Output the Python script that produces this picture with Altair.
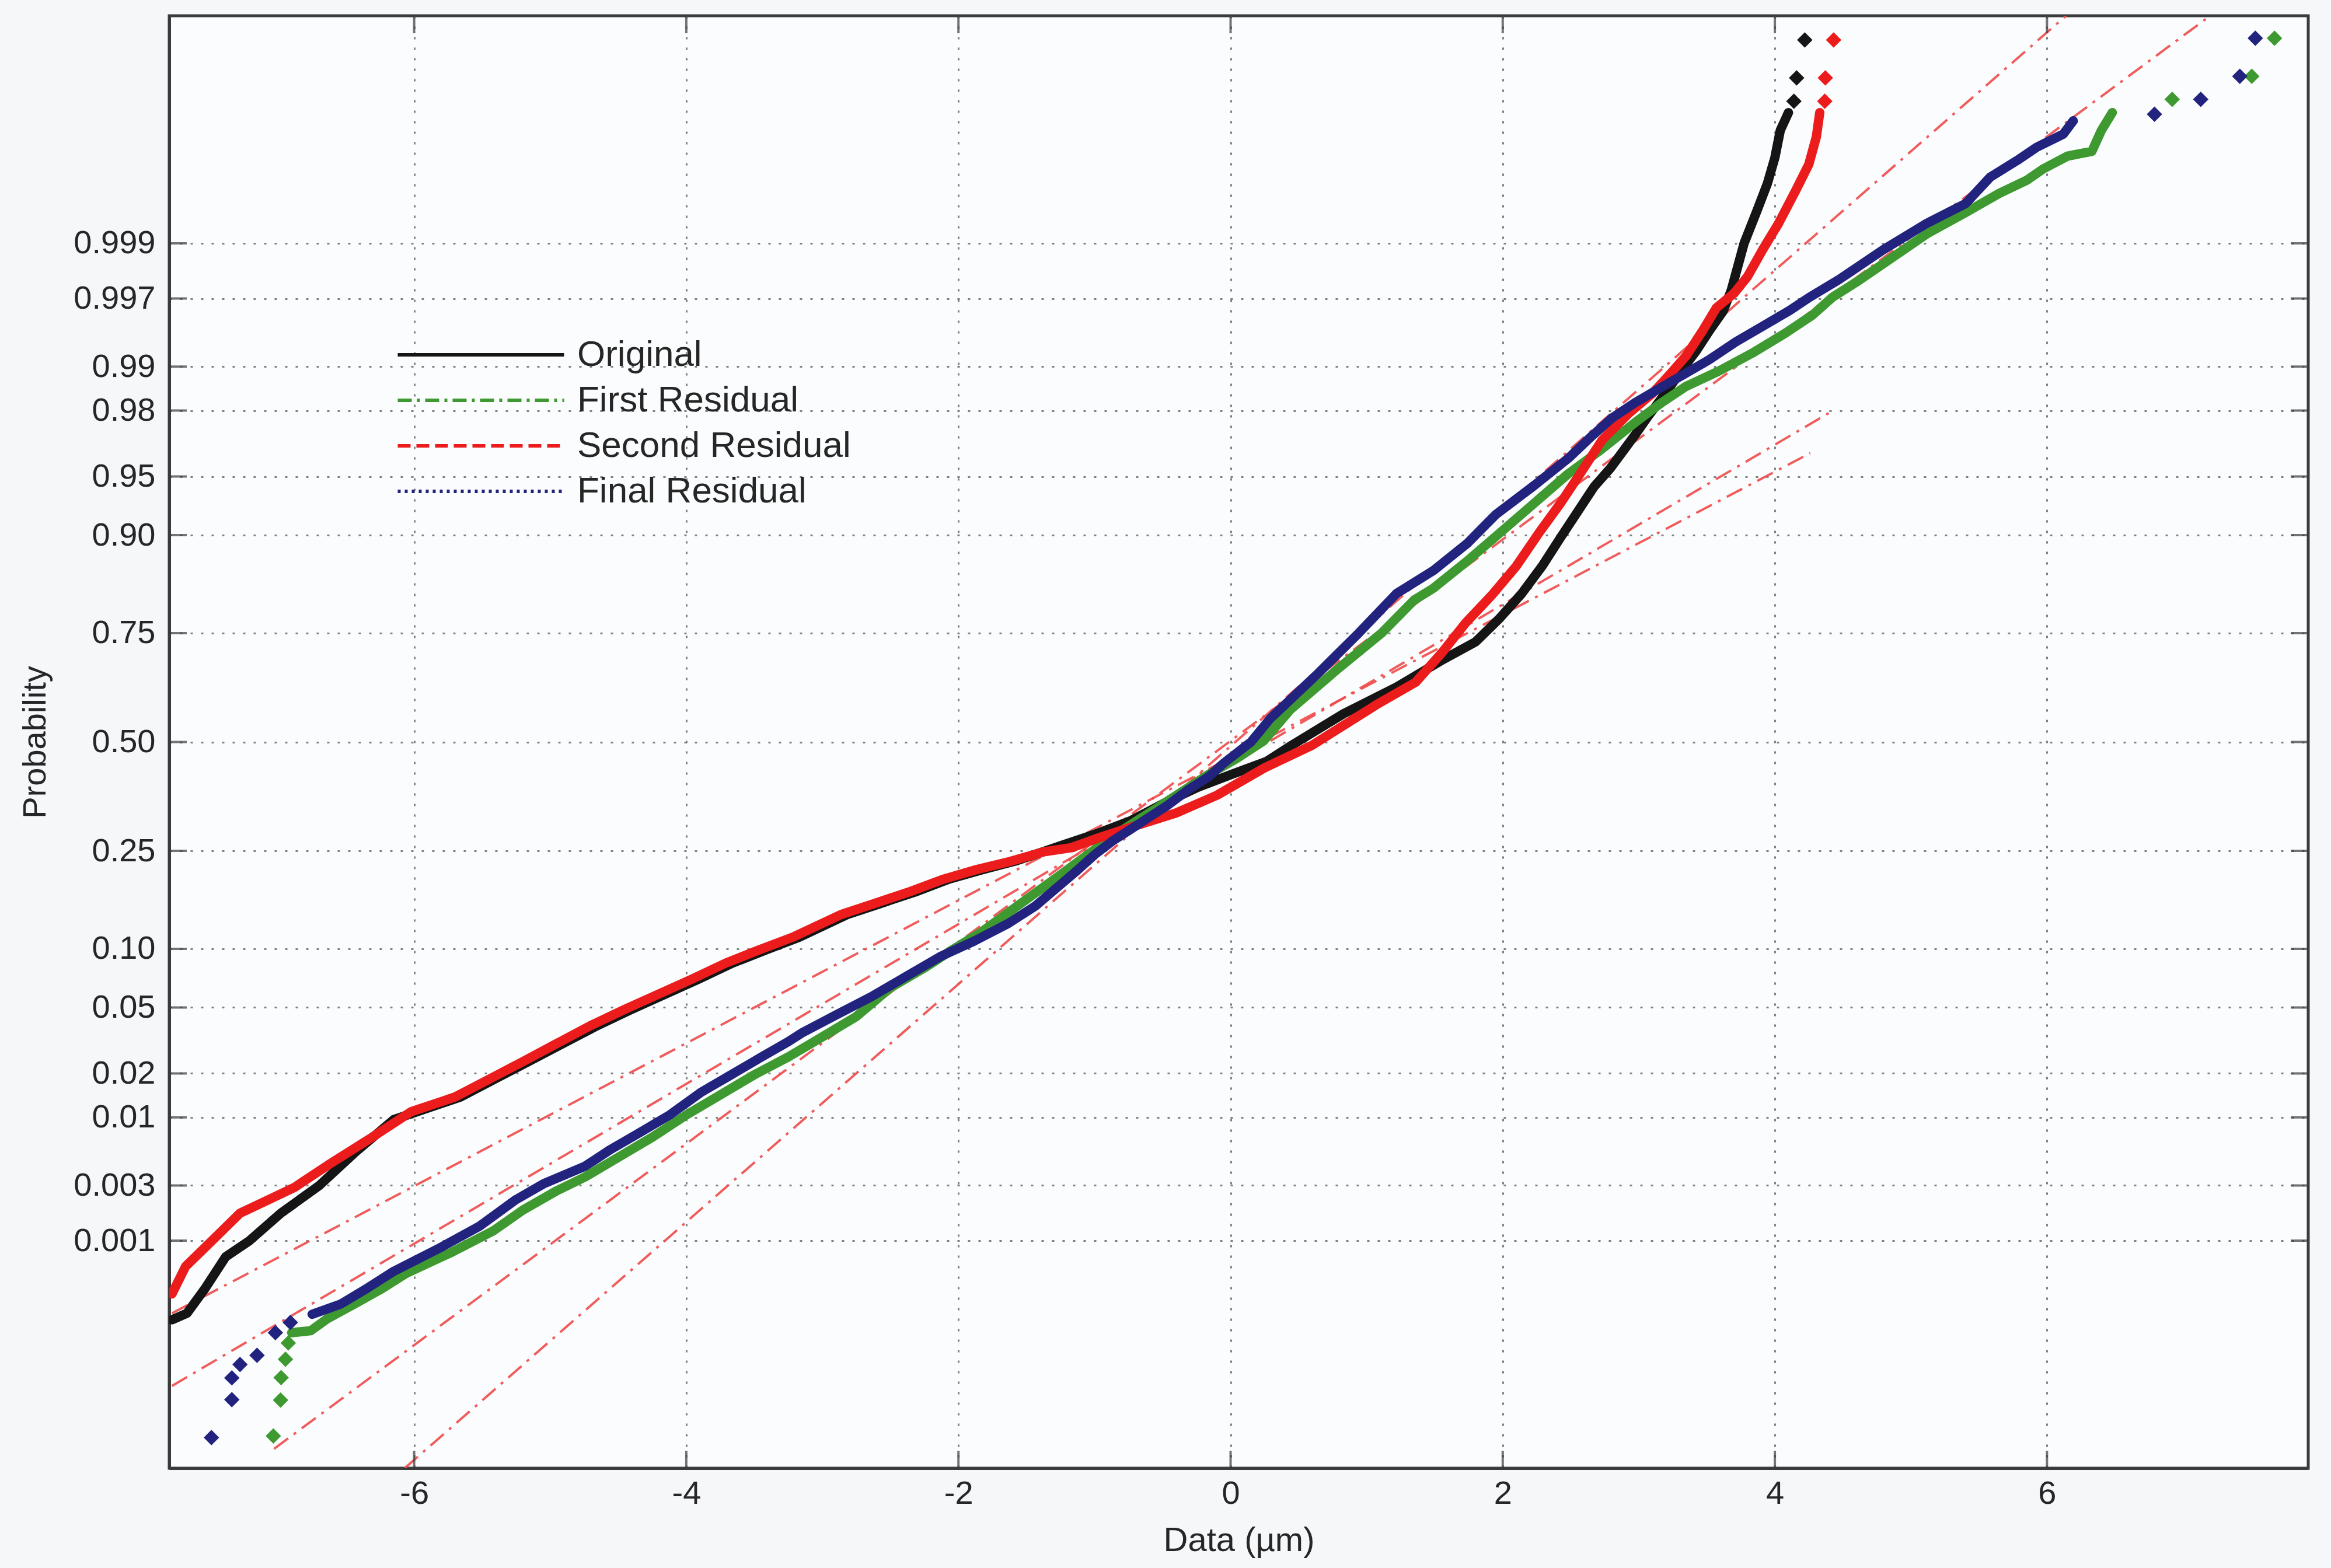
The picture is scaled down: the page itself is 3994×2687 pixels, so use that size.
import altair as alt
import pandas as pd
from statistics import NormalDist

# ---- series and styling -------------------------------------------------
SERIES = ["Original", "First Residual", "Second Residual", "Final Residual"]
COLORS = ["#151515", "#3e9a30", "#ec1c1c", "#22227f"]
LEGEND_DASH = [[1, 0], [24, 9, 5, 9], [22, 10], [5, 7]]

# probability ticks of the normal-probability axis
PROB_TICKS = [0.001, 0.003, 0.01, 0.02, 0.05, 0.10, 0.25, 0.50,
              0.75, 0.90, 0.95, 0.98, 0.99, 0.997, 0.999]
PROB_LABELS = ["0.001", "0.003", "0.01", "0.02", "0.05", "0.10", "0.25", "0.50",
               "0.75", "0.90", "0.95", "0.98", "0.99", "0.997", "0.999"]
X_TICKS = [-6, -4, -2, 0, 2, 4, 6]

X_DOMAIN = [-7.8, 7.92]
Q_DOMAIN = [-4.5, 4.5]

# ---- ordered sample quantiles (x = data in um, q = normal quantile) ------
orig_x = [-7.78, -7.67, -7.54, -7.385, -7.21, -6.98, -6.70, -6.43, -6.15, -5.66,
          -5.41, -5.16, -4.91, -4.66, -4.41, -4.16, -3.91, -3.66, -3.42, -3.17,
          -2.82, -2.57, -2.32, -2.07, -1.82, -1.57, -1.24, -0.99, -0.74, -0.49,
          -0.24, 0.01, 0.265, 0.45, 0.83, 1.22, 1.56, 1.80, 1.97, 2.14,
          2.29, 2.42, 2.545, 2.67, 2.795, 2.97, 3.07, 3.195, 3.32, 3.42,
          3.52, 3.62, 3.68, 3.774, 3.87, 3.945, 4.00, 4.04, 4.10]
orig_q = [-3.58, -3.54, -3.39, -3.19, -3.09, -2.92, -2.75, -2.54, -2.34, -2.20,
          -2.09, -1.98, -1.87, -1.76, -1.66, -1.565, -1.47, -1.37, -1.29, -1.21,
          -1.07, -1.00, -0.93, -0.85, -0.79, -0.735, -0.64, -0.57, -0.49, -0.38,
          -0.28, -0.20, -0.12, -0.02, 0.175, 0.34, 0.51, 0.62, 0.76, 0.92,
          1.09, 1.26, 1.42, 1.58, 1.70, 1.90, 2.02, 2.16, 2.31, 2.42,
          2.55, 2.67, 2.80, 3.09, 3.295, 3.46, 3.62, 3.79, 3.90]
orig_out_x = [4.14, 4.16, 4.22]
orig_out_q = [3.97, 4.115, 4.35]

first_x = [-6.90, -6.76, -6.635, -6.44, -6.25, -6.06, -5.72, -5.42, -5.20, -4.95,
           -4.746, -4.497, -4.248, -3.998, -3.749, -3.50, -3.25, -3.00, -2.753, -2.50,
           -2.25, -2.05, -1.833, -1.63, -1.427, -1.224, -1.046, -0.868, -0.717, -0.564,
           -0.361, -0.159, 0.043, 0.243, 0.441, 0.788, 1.11, 1.35, 1.489, 1.736,
           1.984, 2.231, 2.479, 2.725, 2.972, 3.17, 3.342, 3.587, 3.833, 4.079,
           4.276, 4.424, 4.60, 4.86, 5.12, 5.40, 5.65, 5.85, 5.97, 6.15,
           6.33, 6.40, 6.48]
first_q = [-3.66, -3.648, -3.572, -3.483, -3.394, -3.293, -3.16, -3.03, -2.90, -2.78,
           -2.696, -2.572, -2.448, -2.31, -2.186, -2.062, -1.951, -1.827, -1.703, -1.523,
           -1.40, -1.29, -1.179, -1.055, -0.931, -0.807, -0.696, -0.586, -0.503, -0.421,
           -0.31, -0.20, -0.103, 0.007, 0.202, 0.453, 0.675, 0.88, 0.952, 1.119,
           1.299, 1.479, 1.66, 1.813, 1.979, 2.104, 2.201, 2.298, 2.409, 2.534,
           2.645, 2.756, 2.85, 3.00, 3.15, 3.28, 3.40, 3.48, 3.55, 3.63,
           3.66, 3.79, 3.90]
first_out_x = [-7.035, -6.982, -6.978, -6.946, -6.925, 6.92, 7.505, 7.672]
first_out_q = [-4.30, -4.078, -3.939, -3.825, -3.724, 3.982, 4.125, 4.361]

second_x = [-7.78, -7.68, -7.48, -7.28, -7.08, -6.88, -6.63, -6.32, -6.02, -5.70,
            -5.45, -5.20, -4.955, -4.71, -4.46, -4.21, -3.96, -3.71, -3.47, -3.22,
            -2.865, -2.615, -2.365, -2.11, -1.865, -1.62, -1.37, -1.17, -0.99, -0.74,
            -0.40, -0.10, 0.25, 0.60, 1.07, 1.36, 1.55, 1.73, 1.92, 2.10,
            2.27, 2.425, 2.575, 2.73, 2.925, 3.10, 3.22, 3.35, 3.47, 3.57,
            3.70, 3.80, 3.91, 4.025, 4.155, 4.25, 4.305, 4.33]
second_q = [-3.42, -3.25, -3.085, -2.92, -2.84, -2.76, -2.62, -2.455, -2.29, -2.20,
            -2.09, -1.98, -1.87, -1.76, -1.66, -1.565, -1.47, -1.37, -1.29, -1.21,
            -1.07, -1.00, -0.93, -0.85, -0.79, -0.74, -0.68, -0.655, -0.60, -0.53,
            -0.44, -0.33, -0.16, -0.02, 0.23, 0.37, 0.55, 0.74, 0.91, 1.09,
            1.30, 1.48, 1.67, 1.87, 2.035, 2.16, 2.27, 2.395, 2.55, 2.69,
            2.78, 2.885, 3.05, 3.21, 3.42, 3.58, 3.75, 3.90]
second_out_x = [4.367, 4.371, 4.432]
second_out_q = [3.97, 4.115, 4.35]

final_x = [-6.75, -6.54, -6.34, -6.15, -5.80, -5.52, -5.26, -5.05, -4.743, -4.568,
           -4.344, -4.12, -3.894, -3.67, -3.446, -3.247, -3.145, -2.894, -2.641, -2.389,
           -2.136, -1.885, -1.633, -1.431, -1.277, -1.124, -0.996, -0.869, -0.742, -0.616,
           -0.464, -0.311, -0.159, -0.05, 0.15, 0.294, 0.643, 0.942, 1.22, 1.492,
           1.739, 1.95, 2.234, 2.481, 2.655, 2.803, 2.976, 3.172, 3.344, 3.516,
           3.713, 3.91, 4.107, 4.255, 4.471, 4.794, 5.116, 5.402, 5.583, 5.78,
           5.924, 6.12, 6.193]
final_q = [-3.546, -3.483, -3.382, -3.28, -3.13, -3.00, -2.84, -2.738, -2.628, -2.531,
           -2.421, -2.31, -2.172, -2.062, -1.951, -1.855, -1.80, -1.689, -1.579, -1.455,
           -1.331, -1.234, -1.124, -1.014, -0.903, -0.793, -0.696, -0.614, -0.545, -0.476,
           -0.393, -0.296, -0.214, -0.131, 0.0, 0.147, 0.425, 0.675, 0.92, 1.063,
           1.23, 1.41, 1.591, 1.757, 1.896, 2.007, 2.104, 2.201, 2.284, 2.368,
           2.479, 2.576, 2.673, 2.756, 2.865, 3.049, 3.213, 3.336, 3.50, 3.603,
           3.685, 3.767, 3.849]
final_out_x = [-7.49, -7.34, -7.34, -7.28, -7.155, -7.02, -6.91, 6.79, 7.13, 7.417, 7.531]
final_out_q = [-4.31, -4.075, -3.94, -3.857, -3.80, -3.66, -3.597, 3.89, 3.982, 4.125, 4.361]

# quartile reference lines (end points)
REF_X0 = [-7.78, -7.03, -7.78, -6.07]
REF_Q0 = [-3.54, -4.38, -3.99, -4.50]
REF_X1 = [4.26, 7.20, 4.42, 6.14]
REF_Q1 = [1.79, 4.50, 2.05, 4.50]

CURVES = [(orig_x, orig_q), (first_x, first_q), (second_x, second_q), (final_x, final_q)]
OUTLIERS = [(orig_out_x, orig_out_q), (first_out_x, first_out_q),
            (second_out_x, second_out_q), (final_out_x, final_out_q)]


def series_frame(name, xs, qs):
    return pd.DataFrame({"series": name, "x": xs, "q": qs, "idx": range(len(xs))})


ref_df = pd.concat(
    [series_frame(n, [a, b], [c, d]) for n, a, c, b, d in zip(SERIES, REF_X0, REF_Q0, REF_X1, REF_Q1)],
    ignore_index=True,
)

# normal quantiles of the probability ticks
Z_TICKS = [NormalDist().inv_cdf(p) for p in PROB_TICKS]
prob_expr = " : ".join(
    f"abs(datum.value - ({z:.5f})) < 0.005 ? '{lab}'" for z, lab in zip(Z_TICKS, PROB_LABELS)
) + " : ''"

FONT = "Liberation Sans"
TEXT = "#262626"
GRID = "#6a6a6a"

x_scale = alt.Scale(domain=X_DOMAIN, nice=False, zero=False)
y_scale = alt.Scale(domain=Q_DOMAIN, nice=False, zero=False)

x_axis = alt.Axis(
    values=X_TICKS, title="Data (µm)", grid=True, ticks=False,
    labelExpr="datum.value < 0 ? '-' + abs(datum.value) : '' + datum.value",
    labelFontSize=56, labelPadding=16, titleFontSize=58, titlePadding=24,
)
y_axis = alt.Axis(
    values=Z_TICKS, title="Probability", grid=True, ticks=False,
    labelExpr=prob_expr, labelFontSize=56, labelPadding=24,
    titleFontSize=56, titlePadding=36,
)


def xy():
    """Shared position encodings (same scales and axes in every layer)."""
    return dict(
        x=alt.X("x:Q", scale=x_scale, axis=x_axis),
        y=alt.Y("q:Q", scale=y_scale, axis=y_axis),
    )


# quartile reference lines
ref_layer = alt.Chart(ref_df).mark_line(
    clip=True, color="#ee4a4a", strokeWidth=4, opacity=0.9, strokeDash=[30, 12, 5, 12]
).encode(**xy(), detail="series:N", order="idx:Q")

# dense probability-plot curves, one layer per series in drawing order
curve_layers = []
point_layers = []
for name, color, (xs, qs), (ox, oq) in zip(SERIES, COLORS, CURVES, OUTLIERS):
    curve_layers.append(
        alt.Chart(series_frame(name, xs, qs)).mark_line(
            clip=True, color=color, strokeWidth=16, strokeCap="round", strokeJoin="round"
        ).encode(**xy(), order="idx:Q")
    )
    point_layers.append(
        alt.Chart(series_frame(name, ox, oq)).mark_point(
            clip=True, shape="diamond", filled=True, size=700, color=color, opacity=1
        ).encode(**xy())
    )

# legend carrier: invisible lines whose colour / dash scales feed the legend
legend_cfg = dict(
    orient="none", legendX=501, legendY=548, title=None, padding=0,
    symbolType="M-4.75,0H4.75", symbolSize=3600, symbolStrokeWidth=6, symbolOpacity=1,
    labelFontSize=62, labelFont=FONT, labelColor=TEXT, labelOffset=132,
    labelLimit=2000, rowPadding=14,
)
legend_layer = alt.Chart(ref_df).mark_line(opacity=0, clip=True).encode(
    **xy(),
    color=alt.Color("series:N", scale=alt.Scale(domain=SERIES, range=COLORS),
                    legend=alt.Legend(**legend_cfg)),
    strokeDash=alt.StrokeDash("series:N", scale=alt.Scale(domain=SERIES, range=LEGEND_DASH),
                              legend=alt.Legend(**legend_cfg)),
    order="idx:Q",
)

# inward tick marks on all four sides of the box
xt = pd.DataFrame({"x": X_TICKS * 2, "q": [Q_DOMAIN[0]] * len(X_TICKS) + [Q_DOMAIN[1]] * len(X_TICKS)})
yt = pd.DataFrame({"x": [X_DOMAIN[0]] * len(Z_TICKS) + [X_DOMAIN[1]] * len(Z_TICKS), "q": Z_TICKS * 2})
xtick_layer = alt.Chart(xt).mark_tick(
    clip=True, orient="vertical", size=60, thickness=4, color="#3b3b3b"
).encode(**xy())
ytick_layer = alt.Chart(yt).mark_tick(
    clip=True, orient="horizontal", size=60, thickness=4, color="#3b3b3b"
).encode(**xy())

chart = alt.layer(
    ref_layer, *curve_layers, *point_layers, legend_layer, xtick_layer, ytick_layer
).properties(
    width=3665,
    height=2489,
    autosize=alt.AutoSizeParams(type="none"),
    padding={"left": 290, "top": 27, "right": 39, "bottom": 171},
    background="#f6f7f9",
).configure_view(
    stroke="#3b3b3b", strokeWidth=5, fill="#fbfcfd"
).configure_axis(
    labelFont=FONT, titleFont=FONT, labelColor=TEXT, titleColor=TEXT,
    titleFontWeight="normal", domain=True, domainColor="#3b3b3b", domainWidth=5,
    gridColor=GRID, gridDash=[4, 14], gridWidth=3, gridOpacity=0.85,
)

chart.save("out.html", embed_options={"renderer": "svg", "actions": False})
